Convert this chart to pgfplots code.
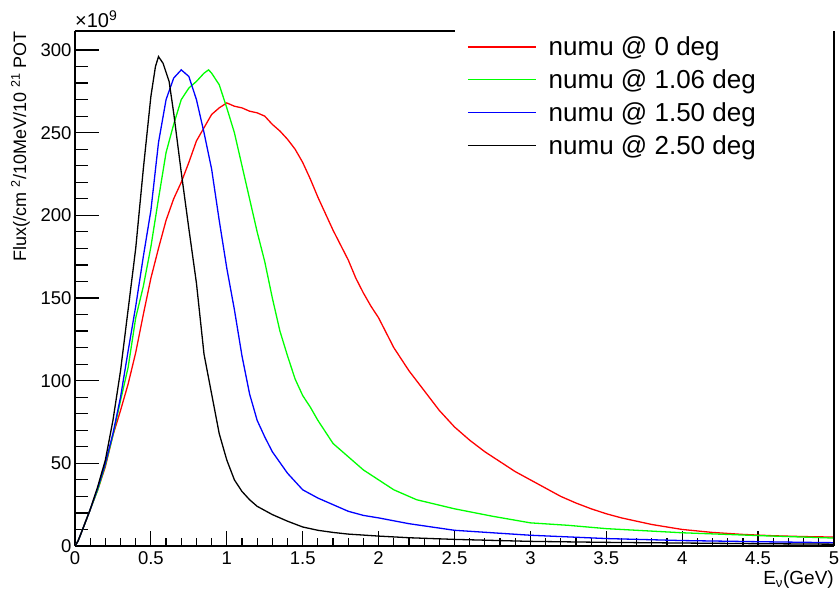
\documentclass[border=0pt]{standalone}
\usepackage{fontspec}
\setmainfont{Liberation Sans}
\usepackage{pgfplots}
\pgfplotsset{compat=1.18}
\definecolor{hred}{RGB}{255,0,0}
\definecolor{hgreen}{RGB}{0,255,0}
\definecolor{hblue}{RGB}{0,0,255}

% flux in units of 1e9 /cm^2/10MeV/1e21 POT
\pgfplotstableread{
x y
0 0
0.02 3
0.05 10
0.1 22
0.15 34
0.2 48
0.25 67
0.3 82
0.35 98
0.4 117
0.45 140
0.5 162
0.55 180
0.6 197
0.65 210
0.7 220
0.75 232
0.8 245
0.85 253
0.9 261
0.95 265
1.0 268
1.05 266
1.1 265
1.15 263
1.2 262
1.25 260
1.3 255
1.35 251
1.4 246
1.45 240
1.5 232
1.55 222
1.6 211
1.65 201
1.7 191
1.75 182
1.8 173
1.85 162
1.9 153
1.95 145
2.0 138
2.1 120
2.2 106
2.3 94
2.4 82
2.5 72
2.6 64
2.7 57
2.8 51
2.9 45
3.0 40
3.1 35
3.2 30
3.3 26
3.4 22.5
3.5 19.5
3.6 17
3.8 13
4.0 10
4.2 8.2
4.4 7
4.6 6.2
4.8 5.7
5.0 5.4
}\degzero

\pgfplotstableread{
x y
0 0
0.02 3
0.05 10
0.1 22
0.15 34
0.2 49
0.25 67
0.3 88
0.35 108
0.4 138
0.45 157
0.5 181
0.55 210
0.6 238
0.65 255
0.7 270
0.75 277
0.8 281
0.85 286
0.88 288
0.9 286
0.95 279
1.0 265
1.05 250
1.1 230
1.15 210
1.2 190
1.25 172
1.3 150
1.35 130
1.4 115
1.45 101
1.5 91
1.55 84
1.6 76
1.7 62
1.8 54
1.9 46
2.0 40
2.1 34
2.25 28
2.5 22.5
2.75 18
3.0 14
3.25 12.5
3.5 10.5
4.0 8
4.5 6.3
5.0 4.8
}\degone

\pgfplotstableread{
x y
0 0
0.02 3
0.05 10
0.1 22
0.15 35
0.2 50
0.25 68
0.3 90
0.35 118
0.4 145
0.45 175
0.5 203
0.55 244
0.6 270
0.65 283
0.7 288
0.75 284
0.8 270
0.85 250
0.9 228
0.95 197
1.0 168
1.05 143
1.1 115
1.15 92
1.2 76
1.25 66
1.3 57
1.4 44
1.5 34
1.6 29
1.7 25
1.8 21
1.9 18.5
2.0 17
2.2 13.5
2.5 9.5
3.0 6.5
3.5 4.5
4.0 3.3
4.5 2.6
5.0 2
}\degonefive

\pgfplotstableread{
x y
0 0
0.02 3
0.05 10
0.1 22
0.15 36
0.2 52
0.25 76
0.3 106
0.35 143
0.4 180
0.45 228
0.5 272
0.53 290
0.55 296
0.58 292
0.62 281
0.65 262
0.7 226
0.75 192
0.8 159
0.85 116
0.9 92
0.95 68
1.0 52
1.05 40
1.1 33
1.15 28
1.2 24
1.3 19
1.4 15
1.5 11.5
1.6 9.5
1.7 8.2
1.8 7.2
2.0 6
2.2 5
2.5 4
3.0 2.8
3.5 2.2
4.0 1.8
4.5 1.4
5.0 1.1
}\degtwofive

\begin{document}
\begin{tikzpicture}
\path[use as bounding box] (-75pt,-49pt) rectangle (764pt,546pt);
\begin{axis}[
  name=ax,
  at={(0pt,0pt)}, anchor=south west,
  scale only axis, width=759pt, height=515pt,
  xmin=0, xmax=5, ymin=0, ymax=311.5,
  axis x line=bottom, axis y line=left,
  axis line style={-, line width=1.2pt},
  tick align=inside,
  xtick={0,0.5,1,1.5,2,2.5,3,3.5,4,4.5,5}, minor x tick num=4,
  ytick={0,50,100,150,200,250,300}, minor y tick num=4,
  tick style={black, line width=1.2pt},
  xtick style={/pgfplots/major tick length=15pt, /pgfplots/minor tick length=8pt},
  ytick style={/pgfplots/major tick length=24pt, /pgfplots/minor tick length=13pt},
  /pgf/number format/assume math mode=true,
  ticklabel style={font=\fontsize{18.5}{20}\selectfont},
  xticklabel style={yshift=-2pt},
  xlabel={E\textsubscript{ν}(GeV)},
  xlabel style={at={(rel axis cs:1,0)}, anchor=north east, yshift=-25pt, inner sep=0pt,
    font=\fontsize{19}{22}\selectfont},
  ylabel={Flux(/cm \textsuperscript{2}/10MeV/10 \textsuperscript{21} POT},
  ylabel style={at={(rel axis cs:0,1)}, anchor=south east, yshift=45pt, inner sep=0pt,
    font=\fontsize{18}{20}\selectfont},
  legend style={at={(rel axis cs:0.5007,1.001)}, anchor=north west, fill=white, draw=none,
    font=\fontsize{26}{30}\selectfont, row sep=8.5pt, inner xsep=12pt, inner ysep=4pt,
    /tikz/every odd column/.append style={column sep=10pt}},
  legend cell align=left,
  legend image code/.code={\draw[#1, line width=1.5pt] (0pt,0pt) -- (68pt,0pt);},
]
\addplot[hred, line width=1.3pt] table[x=x, y=y] {\degzero};
\addlegendentry{numu @ 0 deg}
\addplot[hgreen, line width=1.3pt] table[x=x, y=y] {\degone};
\addlegendentry{numu @ 1.06 deg}
\addplot[hblue, line width=1.3pt] table[x=x, y=y] {\degonefive};
\addlegendentry{numu @ 1.50 deg}
\addplot[black, line width=1.3pt] table[x=x, y=y] {\degtwofive};
\addlegendentry{numu @ 2.50 deg}
\end{axis}
\draw[line width=1.2pt] (ax.north west) -- ([xshift=380pt]ax.north west);
\draw[line width=1.2pt] (ax.south east) -- (ax.north east);
\node[anchor=south west, inner sep=0pt, font=\fontsize{20}{22}\selectfont]
  at ([yshift=3pt]ax.north west) {×10\textsuperscript{9}};
\end{tikzpicture}
\end{document}
